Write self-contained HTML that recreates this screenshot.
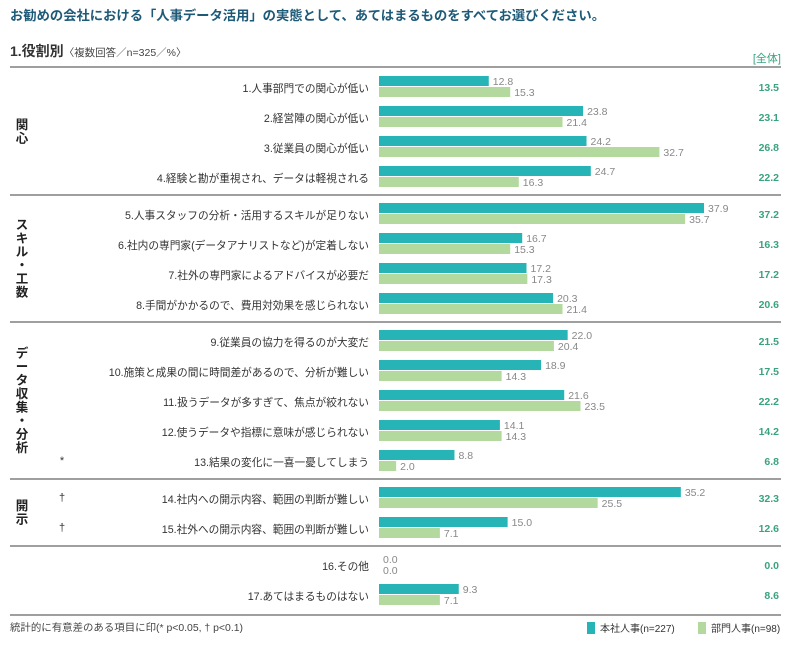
<!DOCTYPE html>
<html><head><meta charset="utf-8"><style>
body{margin:0;background:#fff;width:806px;height:644px;overflow:hidden;font-family:"Liberation Sans","Noto Sans CJK JP",sans-serif;}
svg text{font-family:"Liberation Sans","Noto Sans CJK JP",sans-serif;}
</style></head><body>
<svg id="chart" width="806" height="644" xmlns="http://www.w3.org/2000/svg">
<text x="10" y="20" font-size="13.3" font-weight="bold" fill="#1d5a78" textLength="595" lengthAdjust="spacingAndGlyphs">お勧めの会社における「人事データ活用」の実態として、あてはまるものをすべてお選びください。</text>
<text x="10" y="56" font-size="14" fill="#333"><tspan font-weight="bold">1.役割別</tspan><tspan font-size="10.5" fill="#444">〈複数回答／n=325／%〉</tspan></text>
<text x="781" y="62" font-size="11" fill="#3aa37e" text-anchor="end">[全体]</text>
<g id="marks"></g>
<text x="10" y="631" font-size="10" fill="#444" textLength="233" lengthAdjust="spacingAndGlyphs">統計的に有意差のある項目に印(* p&lt;0.05, † p&lt;0.1)</text>
<rect x="587" y="622" width="8" height="12" fill="#26b4b7"/>
<text x="600" y="632" font-size="10" fill="#333">本社人事(n=227)</text>
<rect x="698" y="622" width="8" height="12" fill="#b3d99e"/>
<text x="711" y="632" font-size="10" fill="#333">部門人事(n=98)</text>
</svg>
<script>
const categories=["1.人事部門での関心が低い","2.経営陣の関心が低い","3.従業員の関心が低い","4.経験と勘が重視され、データは軽視される","5.人事スタッフの分析・活用するスキルが足りない","6.社内の専門家(データアナリストなど)が定着しない","7.社外の専門家によるアドバイスが必要だ","8.手間がかかるので、費用対効果を感じられない","9.従業員の協力を得るのが大変だ","10.施策と成果の間に時間差があるので、分析が難しい","11.扱うデータが多すぎて、焦点が絞れない","12.使うデータや指標に意味が感じられない","13.結果の変化に一喜一憂してしまう","14.社内への開示内容、範囲の判断が難しい","15.社外への開示内容、範囲の判断が難しい","16.その他","17.あてはまるものはない"];
const hqValues=[12.8,23.8,24.2,24.7,37.9,16.7,17.2,20.3,22.0,18.9,21.6,14.1,8.8,35.2,15.0,0.0,9.3];
const deptValues=[15.3,21.4,32.7,16.3,35.7,15.3,17.3,21.4,20.4,14.3,23.5,14.3,2.0,25.5,7.1,0.0,7.1];
const totalValues=[13.5,23.1,26.8,22.2,37.2,16.3,17.2,20.6,21.5,17.5,22.2,14.2,6.8,32.3,12.6,0.0,8.6];
const groupOf=[0,0,0,0,1,1,1,1,2,2,2,2,2,3,3,4,4];
const groupNames=["関心","スキル・工数","データ収集・分析","開示",""];
const sigMarks=["","","","","","","","","","","","","*","†","†","",""];
const NS="http://www.w3.org/2000/svg";
const g=document.getElementById('marks');
const x0=379, ppu=8.575;
function xs(v){return x0+v*ppu;}
function rowY(i){return 76+i*30+groupOf[i]*7;}
function mk(tag,attrs,txt){const e=document.createElementNS(NS,tag);for(const k in attrs)e.setAttribute(k,attrs[k]);if(txt!==undefined)e.textContent=txt;g.appendChild(e);return e;}
const lines=[67];
for(let i=1;i<categories.length;i++){if(groupOf[i]!==groupOf[i-1])lines.push(rowY(i)-8);}
lines.push(615);
lines.forEach((y,k)=>{const l=mk('line',{x1:10,x2:781,y1:y,y2:y,stroke:'#666','stroke-width':1.2});

});
groupNames.forEach((name,gi)=>{if(!name)return;const idx=[];groupOf.forEach((v,i)=>{if(v===gi)idx.push(i);});
const top=rowY(idx[0])-8,bot=rowY(idx[idx.length-1])+29;const chars=[...name];const lh=13.5;const cy=(top+bot)/2-chars.length*lh/2+11;
chars.forEach((c,k)=>{const t=mk('text',{x:22,y:cy+k*lh,'font-size':12.5,'font-weight':'bold',fill:'#222','text-anchor':'middle'},c);

});});
categories.forEach((c,i)=>{const y=rowY(i);
const lab=mk('text',{x:369,y:y+16,'font-size':10.7,fill:'#333','text-anchor':'end'},c);


if(sigMarks[i]){const s=mk('text',{x:62,y:y+14,'font-size':11,fill:'#333','text-anchor':'middle'},sigMarks[i]);

}
const b1=mk('rect',{x:x0,y:y,width:Math.max(0,xs(hqValues[i])-x0),height:10,fill:'#26b4b7'});


const b2=mk('rect',{x:x0,y:y+11,width:Math.max(0,xs(deptValues[i])-x0),height:10,fill:'#b3d99e'});


const v1=mk('text',{x:xs(hqValues[i])+4,y:y+9,'font-size':10.5,fill:'#888'},hqValues[i].toFixed(1));


const v2=mk('text',{x:xs(deptValues[i])+4,y:y+20,'font-size':10.5,fill:'#888'},deptValues[i].toFixed(1));


const tt=mk('text',{x:779,y:y+15,'font-size':10.5,'font-weight':'bold',fill:'#3aa37e','text-anchor':'end'},totalValues[i].toFixed(1));


});
</script>
</body></html>
